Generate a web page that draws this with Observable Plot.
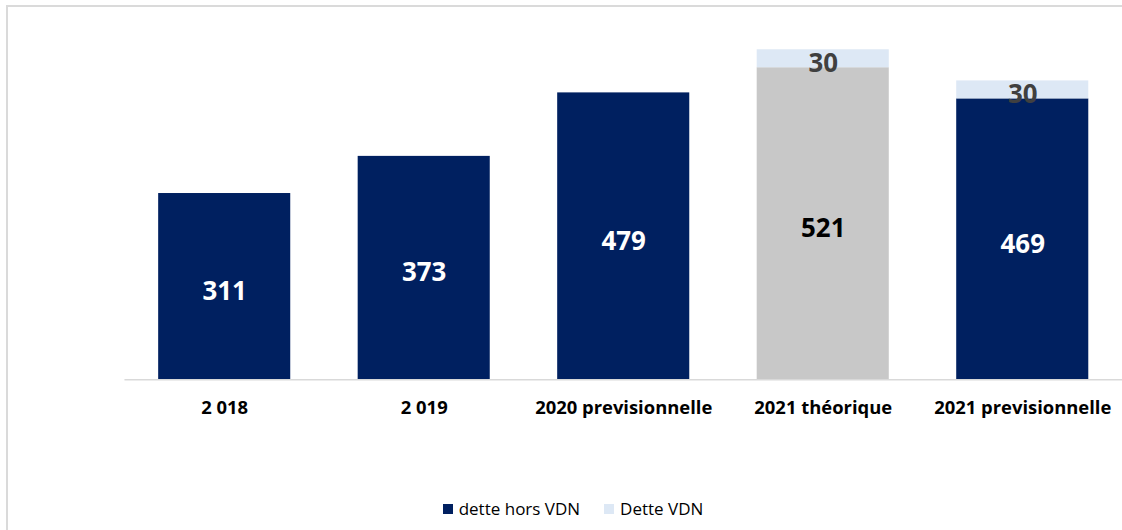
<!DOCTYPE html>
<html>
<head>
<meta charset="utf-8">
<script src="https://cdn.jsdelivr.net/npm/d3@7"></script>
<script src="https://cdn.jsdelivr.net/npm/@observablehq/plot@0.6"></script>
<style>
  html, body { margin: 0; padding: 0; background: #fff; overflow: hidden; width: 1122px; height: 530px; }
  #frame { position: absolute; left: 6px; top: 5px; width: 1300px; height: 700px; border: 2px solid #dadada; box-sizing: border-box; }
  #chart { position: absolute; left: 0; top: 0; }
  #legend { position: absolute; left: 0; top: 497px; width: 1146px; display: flex; justify-content: center; font-family: "Open Sans", sans-serif; font-size: 17px; color: #000; }
  .item { display: flex; align-items: center; margin: 0 12px; }
  .sw { width: 10px; height: 10px; margin-right: 6px; display: inline-block; }
</style>
</head>
<body>
<div id="frame"></div>
<div id="chart"></div>
<div id="legend"></div>
<script>
const categories = ["2 018", "2 019", "2020 previsionnelle", "2021 théorique", "2021 previsionnelle"];
const detteHorsVDN = [311, 373, 479, 521, 469];
const detteVDN = [0, 0, 0, 30, 30];
const seriesNames = ["dette hors VDN", "Dette VDN"];

const NAVY = "#002060", LIGHT = "#dde8f5", GRAY = "#c8c8c8";
const theoretical = "2021 théorique";

const rows = [];
categories.forEach((c, i) => {
  rows.push({category: c, series: seriesNames[0], value: detteHorsVDN[i]});
  rows.push({category: c, series: seriesNames[1], value: detteVDN[i]});
});

const fillOf = d => d.series === seriesNames[1] ? LIGHT : (d.category === theoretical ? GRAY : NAVY);
const textFillOf = d => d.series === seriesNames[1] ? "#404040" : (d.category === theoretical ? "#000" : "#fff");

const plot = Plot.plot({
  width: 1127,
  height: 440,
  marginLeft: 125,
  marginRight: 0,
  marginTop: 20,
  marginBottom: 59,
  style: {fontFamily: "'Open Sans', sans-serif", background: "transparent"},
  x: {domain: categories, paddingInner: 0.338, paddingOuter: 0.169, round: false, label: null},
  y: {domain: [0, 600], axis: null},
  marks: [
    Plot.barY(rows, Plot.stackY({x: "category", y: "value", fill: fillOf, order: seriesNames})),
    Plot.ruleY([0], {stroke: "#d9d9d9", strokeWidth: 1.5}),
    Plot.text(rows.filter(d => d.value > 0), Plot.stackY({
      x: "category", y: "value", text: d => String(d.value), fill: textFillOf,
      order: seriesNames, fontSize: 26, fontWeight: "bold", dy: 5
    })),
    Plot.axisX({tickSize: 0, tickPadding: 21, fontSize: 18.5, fontWeight: "bold", fill: "#000", label: null})
  ]
});
document.getElementById("chart").appendChild(plot);

const legend = document.getElementById("legend");
[[seriesNames[0], NAVY], [seriesNames[1], LIGHT]].forEach(([name, col]) => {
  const it = document.createElement("div");
  it.className = "item";
  it.innerHTML = `<span class="sw" style="background:${col}"></span><span>${name}</span>`;
  legend.appendChild(it);
});
</script>
</body>
</html>
